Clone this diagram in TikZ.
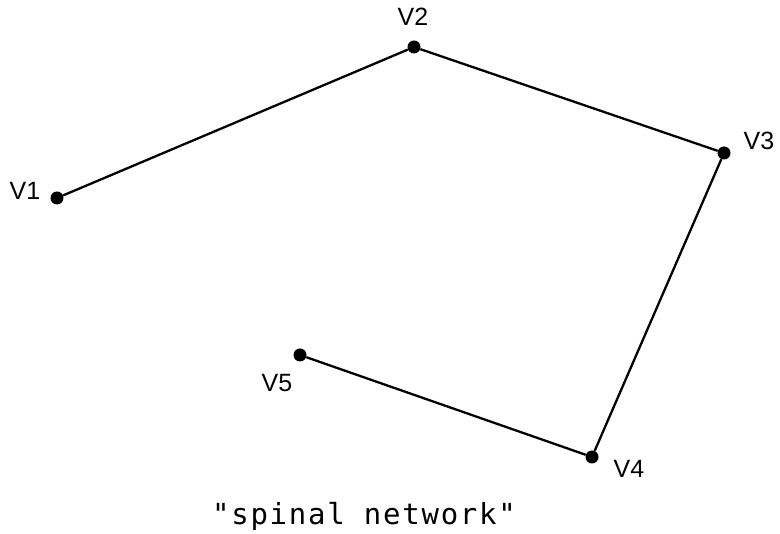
\documentclass[tikz,border=0pt]{standalone}
\usepackage{fontspec}
\setmainfont{Liberation Sans}
\newfontfamily\capfont{DejaVu Sans Mono}[LetterSpace=6]
\usetikzlibrary{positioning}

\begin{document}
\begin{tikzpicture}[x=1pt, y=-1pt,
  vert/.style={circle, fill=black, inner sep=0pt, minimum size=13pt},
  vlabel/.style={font=\fontsize{25}{27}\selectfont, inner sep=0pt},
  edge/.style={line width=2.3pt}
]
  \useasboundingbox (0,0) rectangle (780,534);

  % vertices
  \node[vert] (v1) at (57,198) {};
  \node[vert] (v2) at (414,47) {};
  \node[vert] (v3) at (724,153) {};
  \node[vert] (v4) at (592,457) {};
  \node[vert] (v5) at (300,355) {};

  % labels
  \node[vlabel] (l1) at (25,191) {V1};
  \node[vlabel] (l2) at (413,17) {V2};
  \node[vlabel] (l3) at (759,141) {V3};
  \node[vlabel] (l4) at (629,469) {V4};
  \node[vlabel] (l5) at (277,383) {V5};

  \draw[edge] (v1) -- (v2) -- (v3) -- (v4) -- (v5);

  \node[font=\capfont\fontsize{29}{31}\selectfont, inner sep=0pt] (cap) at (364,516) {"spinal network"};
\end{tikzpicture}
\end{document}
